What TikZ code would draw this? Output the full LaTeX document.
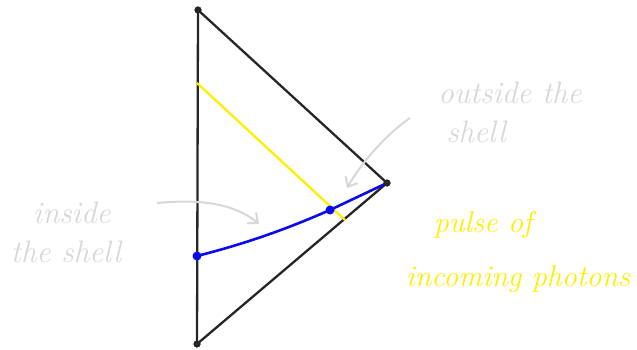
\documentclass[tikz,border=0pt]{standalone}
\usetikzlibrary{arrows.meta}
\definecolor{hgray}{RGB}{215,215,215}
\definecolor{hyellow}{RGB}{255,238,0}
\definecolor{hblue}{RGB}{10,10,240}
\begin{document}
\begin{tikzpicture}[x=1pt,y=-1pt,
  edge/.style={draw=black!85,line width=2.3pt},
  vert/.style={circle,fill=black!85,inner sep=0pt,minimum size=7pt},
  bdot/.style={circle,fill=hblue,inner sep=0pt,minimum size=9pt},
  note/.style={text=hgray,font=\itshape\fontsize{31}{39}\selectfont,align=left},
  ynote/.style={text=hyellow,font=\itshape\fontsize{30}{54}\selectfont,align=left},
  garrow/.style={draw=hgray,line width=2pt,-{Straight Barb[length=8pt,width=14pt]}}]
\useasboundingbox (0,0) rectangle (637,350);
\node[vert] (top) at (198,10) {};
\node[vert] (bot) at (197,344) {};
\node[vert] (right) at (387,183) {};
\coordinate (ya) at (197,83);
\coordinate (yb) at (345,220);
\draw[edge] (top.center) -- (bot.center);
\draw[edge] (top.center) -- (right.center) -- (bot.center);
\draw[draw=hyellow,line width=2.3pt] (ya) -- (yb);
\node[bdot] (b1) at (197,256) {};
\node[bdot] (b2) at (330,210) {};
\draw[hblue,line width=2.6pt] (b1.center) .. controls (240,245) and (280,232) .. (b2.center) -- (right.center);
\node[vert] at (right) {};
\node[vert] at (top) {};
\node[vert] at (bot) {};
\node[note] (inside) at (66,232) {\hspace*{22pt}inside\\the shell};
\node[note] (outside) at (510,112) {outside the\\\hspace*{8pt}shell};
\node[ynote] (pulse) at (518,252) {\hspace*{28pt}pulse of\\incoming photons};
\coordinate (ia) at (157,203);
\coordinate (ib) at (259,224);
\coordinate (oa) at (410,118);
\coordinate (ob) at (347,188);
\draw[garrow] (ia) .. controls (190,200) and (230,200) .. (ib);
\draw[garrow] (oa) .. controls (385,135) and (360,165) .. (ob);
\end{tikzpicture}
\end{document}
